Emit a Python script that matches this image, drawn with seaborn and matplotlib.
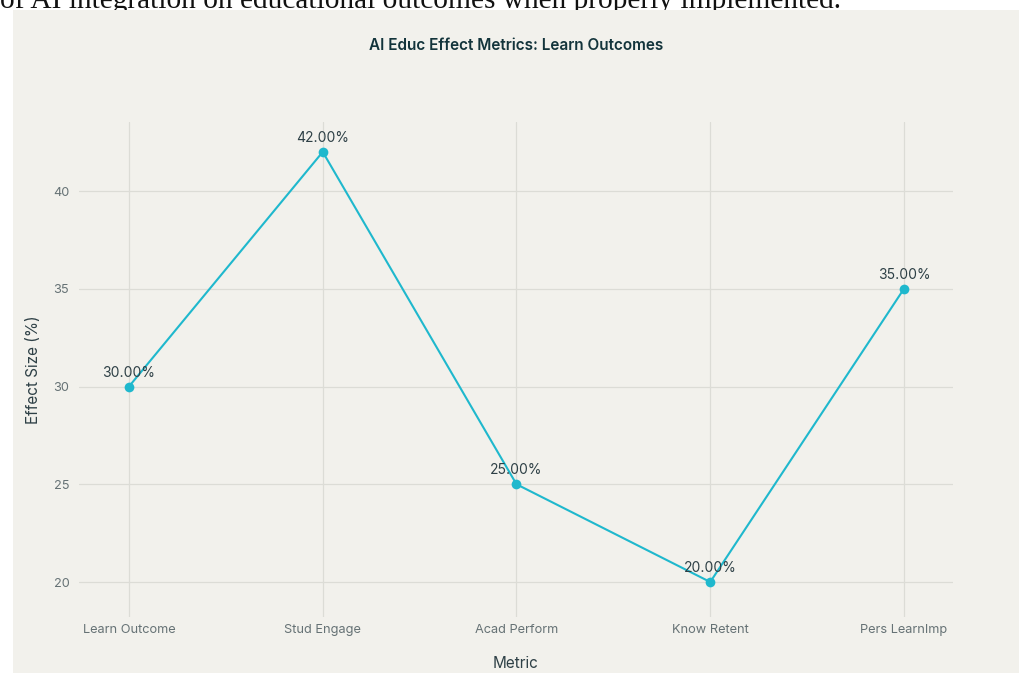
import matplotlib
matplotlib.use("Agg")
import matplotlib.pyplot as plt
import seaborn as sns
import pandas as pd
from matplotlib.patches import Rectangle

metrics = ["Learn Outcome", "Stud Engage", "Acad Perform", "Know Retent", "Pers LearnImp"]
effect_sizes = [30, 42, 25, 20, 35]
y_ticks = [20, 25, 30, 35, 40]

df = pd.DataFrame({"Metric": metrics, "Effect": effect_sizes})
df["pos"] = range(len(metrics))

sns.set_theme(style="white")
plt.rcParams["font.family"] = ["Inter", "DejaVu Sans"]

W, H = 1020, 673
fig = plt.figure(figsize=(W / 100, H / 100), dpi=100)
fig.patch.set_facecolor("white")

bg = "#f2f1ec"
rect = Rectangle((13 / W, 0), 1 - 13 / W, 1 - 10 / H, transform=fig.transFigure,
                 facecolor=bg, edgecolor="none", zorder=-10)
fig.add_artist(rect)

fig.text(0.0, 1 - 8 / H, "of AI integration on educational outcomes when properly implemented.",
         fontsize=21.2, family="Liberation Serif", color="#111111", ha="left", va="baseline",
         zorder=-20)

ax = fig.add_axes([79 / W, 1 - 617 / H, (953 - 79) / W, (617 - 122) / H])
ax.set_facecolor(bg)
ax.set_zorder(1)

line_color = "#1fb8cd"
sns.lineplot(data=df, x="pos", y="Effect", ax=ax, color=line_color, linewidth=1.5,
             marker="o", markersize=7, markeredgewidth=0, zorder=3)

for x, y in zip(df["pos"], df["Effect"]):
    ax.annotate(f"{y:.2f}%", (x, y), xytext=(0, 5), textcoords="offset points",
                ha="center", va="bottom", fontsize=10, color="#2e4046", zorder=4)

ax.set_xlim(-0.258, 4.253)
ax.set_ylim(18.21, 43.53)
ax.set_xticks(range(len(metrics)))
ax.set_xticklabels(metrics)
ax.set_yticks(y_ticks)
ax.tick_params(axis="both", length=0, labelsize=9.2, labelcolor="#667275")
ax.tick_params(axis="x", pad=5)
ax.tick_params(axis="y", pad=7)
ax.grid(True, color="#dcdcd6", linewidth=0.9)
ax.set_axisbelow(True)
for s in ax.spines.values():
    s.set_visible(False)

ax.set_xlabel("")
ax.set_ylabel("")
fig.text(516 / W, 1 - 663 / H, "Metric", ha="center", va="center", fontsize=11, color="#2e4046")
fig.text(33 / W, 1 - 370 / H, "Effect Size (%)", ha="center", va="center", rotation=90,
         fontsize=11, color="#2e4046")
fig.text(516 / W, 1 - 45 / H, "AI Educ Effect Metrics: Learn Outcomes", ha="center", va="center",
         fontsize=11, color="#13343b", fontweight="semibold")

fig.savefig("out.png", dpi=100, facecolor=fig.get_facecolor())
